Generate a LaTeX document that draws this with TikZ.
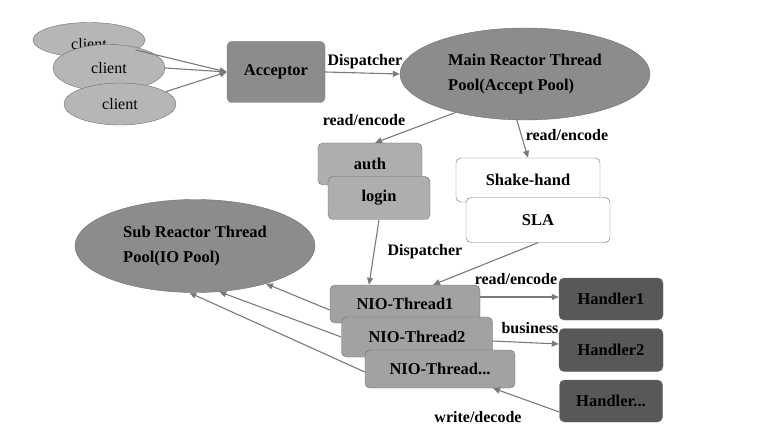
\documentclass[tikz,border=0pt]{standalone}
\usepackage{fontspec}
\setmainfont{Liberation Serif}
\usepackage{xcolor}
\usepackage{tikz}
\usetikzlibrary{shapes.geometric,arrows.meta}

\definecolor{clientgray}{HTML}{B6B6B6}
\definecolor{poolgray}{HTML}{8C8C8C}
\definecolor{boxgray}{HTML}{AEAEAE}
\definecolor{niogray}{HTML}{A2A2A2}
\definecolor{handgray}{HTML}{585858}
\definecolor{edgegray}{HTML}{6E6E6E}
\definecolor{linegray}{HTML}{7A7A7A}

\tikzset{
  client/.style={ellipse,draw=edgegray,fill=clientgray,minimum width=112pt,minimum height=40pt,inner sep=0pt,font=\fontsize{16}{16}\selectfont},
  pool/.style={ellipse,draw=edgegray,fill=poolgray,inner sep=0pt,align=left,font=\bfseries\fontsize{16.5}{25}\selectfont},
  box/.style={rectangle,rounded corners=5pt,draw=edgegray,fill=boxgray,inner sep=0pt,font=\bfseries\fontsize{16.5}{16.5}\selectfont},
  lbl/.style={font=\bfseries\fontsize{16}{16}\selectfont,inner sep=0pt},
  flow/.style={draw=linegray,line width=1.1pt,-{Triangle[length=7pt,width=6pt]}}
}

\begin{document}
\begin{tikzpicture}[x=1pt,y=-1pt]
\useasboundingbox (0,0) rectangle (762,438);
			% Các client
			\node [client,minimum height=35pt] (c1) at (89,40) {\smash{\raisebox{-10pt}{client}}};
			\node [client,minimum height=47pt] (c2) at (109,68) {client};
			\node [client,minimum height=42pt] (c3) at (120,104) {client};
			\node [box,fill=poolgray,minimum width=98pt,minimum height=61pt] (acc) at (276,72) {Acceptor};
			% Các pool
			\node [pool,minimum width=250pt,minimum height=92pt] (main) at (525,74) {Main Reactor Thread\\Pool(Accept Pool)};
			\node [pool,minimum width=240pt,minimum height=93pt] (sub) at (195,246) {Sub Reactor Thread\\Pool(IO Pool)};
			% Các hộp
			\node [box,minimum width=104pt,minimum height=42pt] (auth) at (370,164) {auth};
			\node [box,minimum width=102pt,minimum height=43pt] (login) at (379,198) {login};
			\node [box,fill=white,minimum width=144pt,minimum height=44pt] (shake) at (528,180) {Shake-hand};
			\node [box,fill=white,minimum width=144pt,minimum height=45pt] (sla) at (538,220) {SLA};
			\node [box,fill=niogray,minimum width=150pt,minimum height=38pt] (nio1) at (405,304) {NIO-Thread1};
			\node [box,fill=niogray,minimum width=151pt,minimum height=40pt] (nio2) at (417,337) {NIO-Thread2};
			\node [box,fill=niogray,minimum width=150pt,minimum height=38pt] (nio3) at (440,369) {NIO-Thread...};
			\node [box,fill=handgray,minimum width=104pt,minimum height=42pt] (h1) at (611,299) {Handler1};
			\node [box,fill=handgray,minimum width=104pt,minimum height=43pt] (h2) at (611,350) {Handler2};
			\node [box,fill=handgray,minimum width=103pt,minimum height=42pt] (h3) at (611,401) {Handler...};
			% Các nhãn
			\node [lbl] (d1) at (365,62) {Dispatcher};
			\node [lbl] (re1) at (364,120) {read/encode};
			\node [lbl] (re2) at (567,135) {read/encode};
			\node [lbl] (d2) at (425,252) {Dispatcher};
			\node [lbl] (re3) at (516,279) {read/encode};
			\node [lbl] (bz) at (530,328) {business};
			\node [lbl] (wd) at (478,417) {write/decode};
			% Các mũi tên
			\draw [flow] (c1.-12) -- (acc.west);
			\draw [flow] (c2.east) -- (acc.west);
			\draw [flow] (c3.15) -- (acc.west);
			\draw [flow] (acc.east) -- (main.west);
			\draw [flow] (main.-151) -- ([xshift=5pt]auth.north);
			\draw [flow] (main.-100) -- (shake.north);
			\draw [flow] (login.south) -- ([xshift=-36pt]nio1.north);
			\draw [flow] (sla.south) -- ([xshift=28pt]nio1.north);
			\draw [flow] ([yshift=7pt]nio1.east) -- ([yshift=2pt]h1.west);
			\draw [flow] ([yshift=-4pt]nio2.east) -- ([yshift=6pt]h2.west);
			\draw [flow] ([yshift=-11pt]h3.west) -- ([xshift=53pt]nio3.south);
			\draw [flow] ([yshift=-6pt]nio1.west) -- (sub.-28);
			\draw [flow] (nio2.west) -- (sub.-62);
			\draw [flow] ([yshift=-3pt]nio3.west) -- (sub.-97);
\end{tikzpicture}
\end{document}
